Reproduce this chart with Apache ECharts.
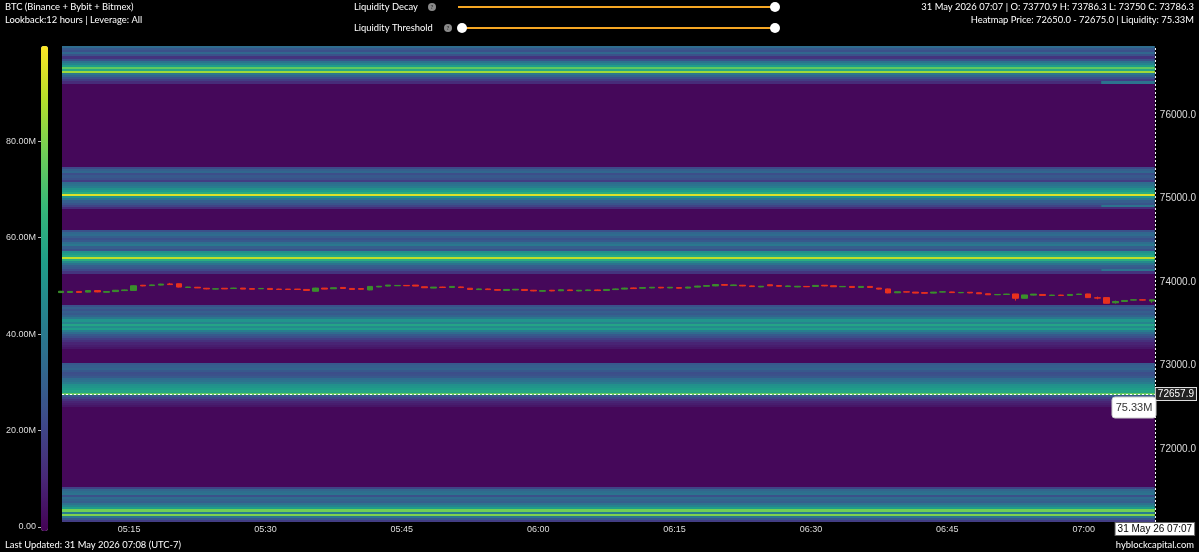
<!DOCTYPE html>
<html>
<head>
<meta charset="utf-8">
<title>BTC Liquidation Heatmap</title>
<script src="https://cdn.jsdelivr.net/npm/echarts@6/dist/echarts.min.js"></script>
<style>
  html, body { margin: 0; padding: 0; background: #000; }
  #chart { width: 1199px; height: 552px; }
</style>
</head>
<body>
<div id="chart"></div>
<script>
// ---- data ----
var priceMin = 71125;
var priceMax = 76825;
var bucketSize = 25;
var baseLiq = 2;          // liquidity (M) outside of the bands
var liqMax = 99.7;        // colour scale top (M)

// liquidity per 25$ bucket (M), listed bottom -> top from the start price
var bandFStart = 71125;
var bandF = [18, 27, 40, 80, 42, 78, 55, 45, 38, 30, 32, 35, 25, 38, 36, 32, 20];
var bandEStart = 72500;
var bandE = [6, 8, 10, 14, 20, 28, 75.33, 58, 55, 52, 50, 42, 38, 35, 28, 25, 24, 28, 32, 30, 28];
var bandDStart = 73200;
var bandD = [6, 8, 10, 14, 18, 24, 28, 35, 42, 55, 48, 58, 45, 52, 40, 32, 28, 30, 26, 30, 25];
var bandCStart = 74100;
var bandC = [15, 22, 28, 30, 38, 48, 62, 90, 60, 55, 50, 25, 30, 40, 36, 28, 25, 30, 35, 33, 25];
var bandBStart = 74875;
var bandB = [12, 20, 26, 30, 40, 52, 95, 62, 55, 50, 42, 38, 35, 18, 25, 28, 24, 33, 30, 22];
var bandAStart = 76375;
var bandA = [12, 18, 25, 32, 40, 85, 60, 75, 55, 45, 38, 25, 15, 25, 33, 25, 28, 35];

// buckets that changed in the last minutes (price bucket start, liquidity M)
var recentPrices = [76375, 74900, 74125];
var recentLiq = [38, 38, 38];

// 1-minute candles from 05:07 to 07:07: [open, close, low, high]
var ohlc = [
  [73872, 73888, 73868, 73892], [73874, 73886, 73870, 73890], [73886, 73874, 73870, 73890], [73878, 73896, 73874, 73900],
  [73896, 73880, 73876, 73900], [73876, 73884, 73872, 73888], [73884, 73900, 73880, 73904], [73896, 73904, 73892, 73908],
  [73898, 73954, 73894, 73958], [73960, 73952, 73948, 73964], [73956, 73964, 73952, 73968], [73962, 73974, 73958, 73978],
  [73976, 73968, 73966, 73988], [73978, 73938, 73934, 73980], [73934, 73938, 73930, 73942], [73936, 73928, 73926, 73940],
  [73924, 73916, 73912, 73928], [73914, 73918, 73910, 73922], [73924, 73916, 73914, 73926], [73922, 73926, 73918, 73930],
  [73926, 73914, 73912, 73928], [73920, 73912, 73910, 73922], [73918, 73922, 73914, 73926], [73922, 73910, 73908, 73924],
  [73914, 73910, 73906, 73918], [73914, 73910, 73906, 73916], [73914, 73910, 73906, 73916], [73910, 73898, 73896, 73912],
  [73888, 73926, 73884, 73930], [73926, 73914, 73912, 73928], [73918, 73930, 73916, 73932], [73934, 73922, 73920, 73936],
  [73922, 73910, 73908, 73924], [73920, 73912, 73908, 73922], [73904, 73946, 73900, 73950], [73940, 73948, 73936, 73952],
  [73950, 73962, 73946, 73964], [73954, 73958, 73950, 73962], [73958, 73954, 73950, 73962], [73962, 73950, 73948, 73964],
  [73942, 73930, 73928, 73944], [73926, 73938, 73924, 73940], [73938, 73934, 73930, 73942], [73934, 73946, 73930, 73948],
  [73940, 73932, 73928, 73944], [73924, 73910, 73906, 73926], [73908, 73916, 73904, 73920], [73916, 73908, 73904, 73920],
  [73908, 73900, 73896, 73912], [73898, 73910, 73894, 73914], [73904, 73912, 73900, 73916], [73910, 73898, 73894, 73912],
  [73900, 73892, 73888, 73904], [73888, 73896, 73884, 73900], [73900, 73892, 73888, 73904], [73894, 73906, 73890, 73910],
  [73904, 73896, 73892, 73908], [73892, 73900, 73888, 73904], [73896, 73904, 73892, 73908], [73904, 73896, 73892, 73908],
  [73898, 73910, 73894, 73914], [73908, 73916, 73904, 73920], [73914, 73926, 73910, 73930], [73928, 73920, 73916, 73932],
  [73924, 73932, 73920, 73936], [73928, 73936, 73924, 73940], [73936, 73928, 73924, 73940], [73928, 73936, 73924, 73940],
  [73932, 73924, 73920, 73936], [73926, 73938, 73922, 73942], [73938, 73950, 73934, 73954], [73948, 73956, 73944, 73960],
  [73952, 73968, 73948, 73972], [73968, 73960, 73956, 73972], [73956, 73964, 73952, 73968], [73960, 73952, 73948, 73964],
  [73952, 73944, 73940, 73956], [73940, 73948, 73936, 73952], [73966, 73954, 73950, 73970], [73956, 73948, 73944, 73960],
  [73944, 73952, 73940, 73956], [73940, 73948, 73936, 73952], [73946, 73942, 73938, 73950], [73946, 73958, 73942, 73960],
  [73960, 73952, 73948, 73962], [73954, 73942, 73940, 73956], [73942, 73946, 73938, 73950], [73946, 73934, 73932, 73948],
  [73934, 73946, 73930, 73948], [73946, 73934, 73932, 73948], [73926, 73914, 73910, 73928], [73916, 73868, 73864, 73920],
  [73870, 73882, 73866, 73884], [73882, 73878, 73874, 73884], [73878, 73866, 73864, 73880], [73872, 73864, 73860, 73874],
  [73866, 73878, 73862, 73880], [73878, 73882, 73874, 73886], [73880, 73872, 73868, 73882], [73870, 73874, 73866, 73878],
  [73876, 73868, 73864, 73878], [73870, 73858, 73856, 73872], [73858, 73846, 73844, 73860], [73846, 73850, 73842, 73854],
  [73850, 73854, 73846, 73858], [73856, 73804, 73776, 73858], [73804, 73844, 73800, 73846], [73842, 73854, 73838, 73856],
  [73850, 73838, 73836, 73852], [73838, 73842, 73834, 73846], [73842, 73838, 73834, 73846], [73838, 73850, 73834, 73852],
  [73850, 73854, 73846, 73858], [73856, 73812, 73808, 73858], [73810, 73806, 73792, 73824], [73812, 73744, 73740, 73814],
  [73750, 73766, 73740, 73776], [73766, 73778, 73762, 73780], [73782, 73786, 73778, 73790], [73786, 73782, 73778, 73790],
  [73770.9, 73786.3, 73750, 73786.3]
];

var cursorPrice = 72657.9;
var colorbarTicks = [0, 20, 40, 60, 80];
var priceTicks = [72000, 73000, 74000, 75000, 76000];
var timeTickLabels = ['05:15', '05:30', '05:45', '06:00', '06:15', '06:30', '06:45', '07:00'];

var viridis = ['#440154', '#482878', '#3e4989', '#31688e', '#26828e', '#1f9e89', '#35b779', '#6ece58', '#b5de2b', '#fde725'];

// ---- helpers ----
function t(h, m, s) {
    return new Date(2026, 4, 31, h, m, s || 0).getTime();
}
function pad(n) {
    return n < 10 ? '0' + n : '' + n;
}

var firstCandle = t(5, 7, 30);          // candle bodies sit in the middle of their minute
var timeMin = t(5, 7, 37);
var timeMax = t(7, 7, 50);
var recentFrom = t(7, 1, 55);

var timeTicks = timeTickLabels.map(function(s) {
    return t(+s.slice(0, 2), +s.slice(3, 5));
});

// build heatmap cells [tStart, tEnd, pLow, pHigh, liq]
var bands = [
    [bandFStart, bandF], [bandEStart, bandE], [bandDStart, bandD],
    [bandCStart, bandC], [bandBStart, bandB], [bandAStart, bandA]
];
function liqAt(p) {
    for (var i = 0; i < bands.length; i++) {
        var idx = Math.round((p - bands[i][0]) / bucketSize);
        if (idx >= 0 && idx < bands[i][1].length) return bands[i][1][idx];
    }
    return baseLiq;
}
var cells = [];
for (var p = priceMin; p < priceMax; p += bucketSize) {
    var ri = recentPrices.indexOf(p);
    if (ri >= 0) {
        cells.push([timeMin, recentFrom, p, p + bucketSize, liqAt(p)]);
        cells.push([recentFrom, timeMax, p, p + bucketSize, recentLiq[ri]]);
    } else {
        cells.push([timeMin, timeMax, p, p + bucketSize, liqAt(p)]);
    }
}

var candleData = ohlc.map(function(c, i) {
    return [firstCandle + i * 60000, c[0], c[1], c[2], c[3]];
});

function renderCell(params, api) {
    var a = api.coord([api.value(0), api.value(3)]);
    var b = api.coord([api.value(1), api.value(2)]);
    var y0 = Math.round(a[1]), y1 = Math.round(b[1]);
    return {
        type: 'rect',
        shape: { x: a[0], y: y0, width: b[0] - a[0], height: y1 - y0 },
        style: { fill: api.visual('color') }
    };
}

var uiFont = 'Lato, "Noto Sans", sans-serif';
var axisFont = '"Liberation Sans", Arial, sans-serif';
var orange = '#f5a623';

function helpIcon(x, y) {
    return {
        type: 'group', x: x, y: y,
        children: [
            { type: 'circle', shape: { cx: 0, cy: 0, r: 4 }, style: { fill: '#8a8a8a' } },
            { type: 'text', style: { text: '?', x: 0, y: 0, fill: '#333', font: 'bold 6px ' + uiFont, align: 'center', verticalAlign: 'middle' } }
        ]
    };
}
function knob(x, y) {
    return { type: 'circle', shape: { cx: x, cy: y, r: 5 }, style: { fill: '#fff' } };
}
function label(text, x, y, align) {
    return { type: 'text', style: { text: text, x: x, y: y, fill: '#fff', font: '9.4px ' + uiFont, align: align || 'left', verticalAlign: 'middle' } };
}

var chart = echarts.init(document.getElementById('chart'));

chart.setOption({
    backgroundColor: '#000',
    animation: false,
    grid: [
        { left: 62, right: 42, top: 46, bottom: 30 },
        { left: 41, width: 7, top: 46, height: 481 }
    ],
    xAxis: [{
        type: 'value',
        min: timeMin,
        max: timeMax,
        axisLine: { show: false },
        axisTick: { show: false },
        splitLine: { show: false },
        axisLabel: {
            color: '#ddd', fontSize: 9, fontFamily: axisFont, margin: 3,
            customValues: timeTicks,
            formatter: function(v) {
                var d = new Date(v);
                return pad(d.getHours()) + ':' + pad(d.getMinutes());
            }
        }
    }, {
        gridIndex: 1, type: 'value', show: false, min: 0, max: 1
    }],
    yAxis: [{
        type: 'value',
        position: 'right',
        min: priceMin,
        max: priceMax,
        axisLine: { show: false },
        axisTick: { show: false },
        splitLine: { show: false },
        axisLabel: {
            color: '#ddd', fontSize: 10, fontFamily: axisFont, margin: 5,
            customValues: priceTicks,
            formatter: function(v) { return v.toFixed(1); }
        }
    }, {
        gridIndex: 1,
        type: 'value',
        position: 'left',
        min: 0,
        max: liqMax,
        axisLine: { show: false },
        splitLine: { show: false },
        axisTick: { show: true, length: 3, lineStyle: { color: '#bbb' }, customValues: colorbarTicks },
        axisLabel: {
            color: '#ddd', fontSize: 9, fontFamily: axisFont, margin: 5,
            customValues: colorbarTicks,
            formatter: function(v) {
                return v === 0 ? '0.00' : v.toFixed(2) + 'M';
            }
        }
    }],
    visualMap: {
        type: 'continuous',
        seriesIndex: 0,
        dimension: 4,
        min: 0,
        max: liqMax,
        calculable: false,
        hoverLink: false,
        left: 41,
        top: 46,
        padding: 0,
        itemWidth: 7,
        itemHeight: 485,
        text: null,
        inRange: { color: viridis }
    },
    series: [{
        type: 'custom',
        name: 'liquidity',
        renderItem: renderCell,
        encode: { x: [0, 1], y: [2, 3] },
        data: cells,
        silent: true,
        z: 1
    }, {
        type: 'candlestick',
        name: 'BTC',
        data: candleData,
        barWidth: 6,
        z: 3,
        itemStyle: {
            color: '#3b8f2c',
            color0: '#e8311e',
            borderColor: '#3b8f2c',
            borderColor0: '#e8311e',
            borderWidth: 1
        },
        markLine: {
            silent: true,
            symbol: 'none',
            animation: false,
            lineStyle: { color: '#fff', type: [2, 2], width: 1 },
            data: [{
                xAxis: timeMax,
                label: {
                    position: 'start',
                    distance: 1,
                    formatter: function() { return '31 May 26 07:07'; },
                    color: '#000', backgroundColor: '#fff', borderColor: '#666', borderWidth: 1,
                    padding: [1, 2], fontSize: 10, fontFamily: axisFont
                }
            }, {
                yAxis: cursorPrice,
                label: {
                    position: 'end',
                    distance: 1,
                    formatter: function() { return cursorPrice.toFixed(1); },
                    color: '#fff', backgroundColor: '#222', borderColor: '#ddd', borderWidth: 1,
                    padding: [1, 2], fontSize: 10, fontFamily: axisFont
                }
            }]
        }
    }],
    graphic: [
        label('BTC (Binance + Bybit + Bitmex)', 5, 7),
        label('Lookback:12 hours | Leverage: All', 5, 20),
        label('Liquidity Decay', 354, 7),
        helpIcon(432, 7),
        { type: 'line', shape: { x1: 458, y1: 7, x2: 775, y2: 7 }, style: { stroke: orange, lineWidth: 2 } },
        knob(775, 7),
        label('Liquidity Threshold', 354, 28),
        helpIcon(448, 28),
        { type: 'line', shape: { x1: 462, y1: 28, x2: 775, y2: 28 }, style: { stroke: orange, lineWidth: 2 } },
        knob(462, 28),
        knob(775, 28),
        label('31 May 2026 07:07 | O: 73770.9 H: 73786.3 L: 73750 C: 73786.3', 1194, 7, 'right'),
        label('Heatmap Price: 72650.0 - 72675.0 | Liquidity: 75.33M', 1194, 20, 'right'),
        label('Last Updated: 31 May 2026 07:08 (UTC-7)', 5, 545),
        label('hyblockcapital.com', 1194, 545, 'right'),
        {
            type: 'group', x: 1112, y: 397, z: 100,
            children: [
                { type: 'rect', z: 100, shape: { x: 0, y: 0, width: 44, height: 21, r: 3 }, style: { fill: '#fff', stroke: '#ccc' } },
                { type: 'text', z: 101, style: { text: '75.33M', x: 22, y: 10.5, fill: '#333', font: '11px ' + axisFont, align: 'center', verticalAlign: 'middle' } }
            ]
        }
    ]
});
</script>
</body>
</html>
